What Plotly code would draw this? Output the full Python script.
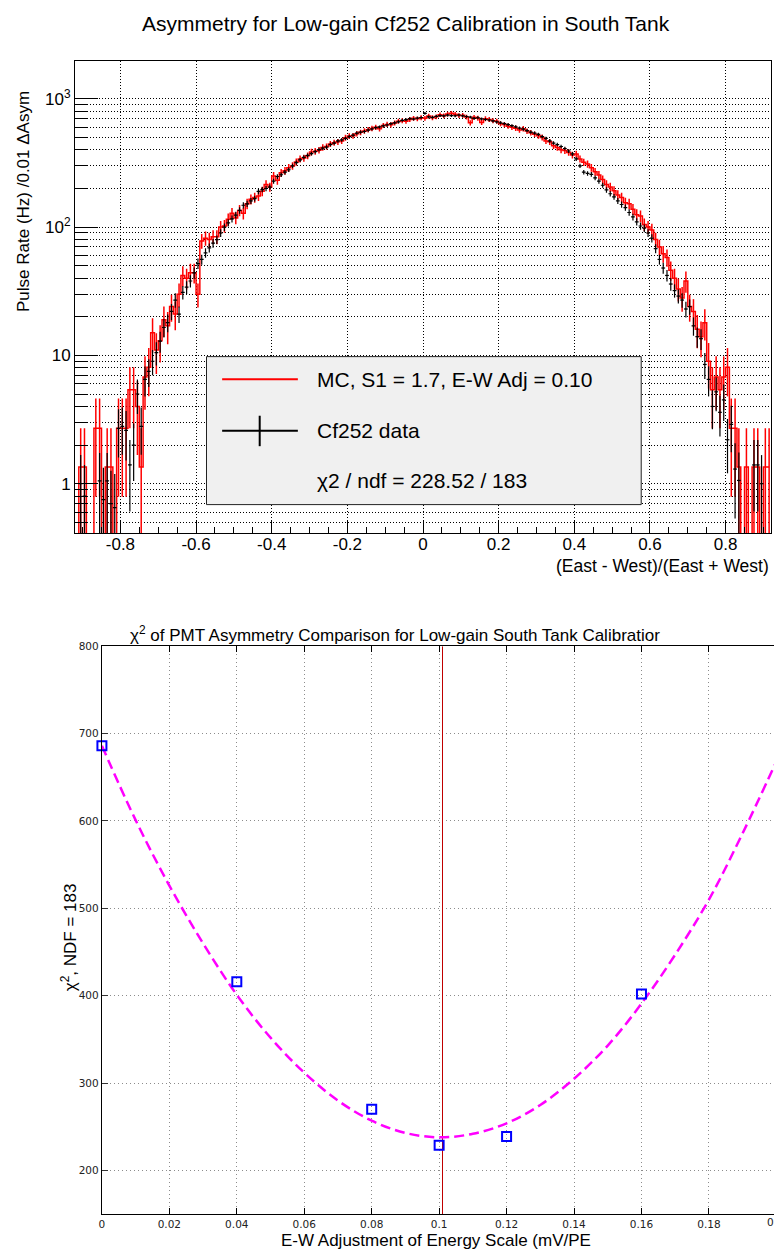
import numpy as np
import plotly.graph_objects as go

W, H = 774, 1253

# ---------------- top panel: asymmetry histograms ----------------
BIN_LOW = -0.92
BIN_WIDTH = 0.01

# Cf252 data, pulse rate per bin (Hz / 0.01 dAsym); 0 = empty bin
data_rate = [
    0, 1.0, 0.8, 0, 0, 0, 1.05, 0.75, 1.05, 0.7,
    0.65, 2.7, 2.8, 2.6, 1.4, 2.0, 5.0, 2.8, 6.5, 7.5,
    9.0, 10.5, 12.9, 16.5, 18, 22, 27, 21, 31, 34,
    38, 44, 52, 56, 63, 69, 75, 80, 90, 100,
    108, 116, 124, 135, 148, 152, 160, 167, 190, 196,
    200, 205, 228, 248, 256, 268, 280, 300, 318, 334,
    350, 362, 374, 388, 402, 412, 420, 440, 452, 470,
    478, 492, 508, 522, 540, 550, 556, 570, 582, 596,
    604, 615, 625, 640, 650, 662, 680, 688, 700, 694,
    708, 715, 770, 722, 718, 730, 740, 735, 745, 740,
    738, 748, 735, 728, 720, 705, 712, 698, 690, 684,
    672, 660, 650, 640, 630, 618, 605, 592, 580, 565,
    550, 540, 528, 508, 492, 470, 452, 440, 425, 410,
    392, 372, 340, 300, 268, 262, 258, 242, 228, 212,
    195, 182, 172, 160, 150, 142, 130, 120, 110, 102,
    98, 90, 82, 68, 56, 48, 42, 36, 32, 29,
    27, 23, 24, 17, 14, 13.5, 8.5, 6.5, 4.0, 5.2,
    3.6, 4.5, 2.2, 2.9, 1.3, 1.06, 0, 0, 0, 1.4,
    1.4, 1.0, 0, 0,
]

# MC (S1 = 1.7, E-W Adj = 0.10), pulse rate per bin; 0 = empty bin
mc_rate = [
    0, 1.35, 1.35, 0, 0, 2.7, 2.7, 0, 1.35, 1.35,
    0, 2.7, 2.7, 2.7, 5.4, 5.4, 4.0, 1.35, 6.8, 8.1,
    15, 11, 13, 19, 17, 24, 21, 30, 42, 40,
    44, 44, 30, 78, 82, 80, 84, 84, 100, 102,
    115, 128, 118, 135, 128, 152, 165, 170, 175, 190,
    215, 205, 250, 232, 265, 275, 290, 300, 322, 340,
    345, 360, 385, 390, 398, 418, 425, 445, 455, 462,
    470, 498, 512, 515, 535, 548, 562, 575, 588, 600,
    585, 620, 632, 628, 648, 668, 676, 670, 690, 705,
    698, 712, 705, 735, 712, 725, 752, 738, 760, 772,
    758, 740, 745, 720, 650, 718, 706, 655, 700, 690,
    675, 668, 640, 630, 612, 600, 590, 572, 585, 560,
    545, 530, 515, 500, 470, 462, 430, 418, 400, 395,
    382, 365, 372, 340, 320, 310, 290, 270, 255, 235,
    215, 205, 192, 178, 170, 155, 152, 138, 125, 122,
    105, 100, 95, 80, 70, 62, 58, 46, 40, 33,
    28, 38, 24, 22, 16, 14, 18, 9, 5.4, 6.8,
    5.4, 6.8, 8.1, 2.7, 2.7, 1.35, 0, 1.35, 0, 1.35,
    1.35, 0, 1.35, 1.35,
]

# per-event weights (Poisson errors of the weighted histograms)
DATA_EVENT_WEIGHT = 0.45
MC_EVENT_WEIGHT = 1.35

x_ticks_top = [-0.8, -0.6, -0.4, -0.2, 0, 0.2, 0.4, 0.6, 0.8]
x_ticktext_top = ["-0.8", "-0.6", "-0.4", "-0.2", "0", "0.2", "0.4", "0.6", "0.8"]
y_ticks_top = [1, 10, 100, 1000]
y_ticktext_top = ["1", "10", "10<sup>2</sup>", "10<sup>3</sup>"]

legend_mc = "MC, S1 = 1.7, E-W Adj = 0.10"
legend_data = "Cf252 data"
legend_chi2 = "\u03c72 / ndf = 228.52 / 183"

# ---------------- bottom panel: chi2 scan ----------------
scan_adj = [0.0, 0.04, 0.08, 0.10, 0.12, 0.16]
scan_chi2 = [686, 416, 270, 229, 239, 402]
fit_adj = [0.0, 0.01, 0.02, 0.03, 0.04, 0.05, 0.06, 0.07, 0.08, 0.09, 0.10,
           0.11, 0.12, 0.13, 0.14, 0.15, 0.16, 0.17, 0.18, 0.19, 0.20]
fit_chi2 = [686, 601, 526, 460, 401, 352, 312, 280, 257, 243, 238,
            242, 254, 275, 305, 343, 391, 447, 510, 586, 668]
best_adj = 0.101
x_ticks_bot = [0, 0.02, 0.04, 0.06, 0.08, 0.1, 0.12, 0.14, 0.16, 0.18]
x_ticktext_bot = ["0", "0.02", "0.04", "0.06", "0.08", "0.1", "0.12", "0.14", "0.16", "0.18"]


def px(x):
    return x / W


def py(y):
    return 1 - y / H


n = len(data_rate)
centers = BIN_LOW + BIN_WIDTH * (np.arange(n) + 0.5)
d = np.array(data_rate, dtype=float)
m = np.array(mc_rate, dtype=float)

d_err = np.sqrt(DATA_EVENT_WEIGHT * d)
m_err = np.sqrt(MC_EVENT_WEIGHT * m)
# lower error bars: keep them positive on the log axis (they run off the bottom)
d_err_lo = np.minimum(d_err, d * 0.999)
m_err_lo = np.minimum(m_err, m * 0.999)

m_plot = np.where(m > 0, m, 1e-3)   # empty bins drop out of the frame, like ROOT

FONT = "Liberation Sans, Arial, Helvetica, sans-serif"
TFONT = "DejaVu Sans, Verdana, sans-serif"
TICKCOL = "#222"

fig = go.Figure()

fig.add_trace(go.Scatter(
    x=centers, y=m_plot, mode="lines", line=dict(color="#ff0000", width=1.5, shape="hvh"),
    error_y=dict(type="data", array=m_err, arrayminus=m_err_lo, color="#ff0000",
                 thickness=1.5, width=0),
    xaxis="x", yaxis="y", hoverinfo="skip"))

mask = d > 0
fig.add_trace(go.Scatter(
    x=centers[mask], y=d[mask], mode="markers",
    marker=dict(size=1, color="black"),
    error_x=dict(type="constant", value=BIN_WIDTH / 2, color="black", thickness=1.2, width=0),
    error_y=dict(type="data", array=d_err[mask], arrayminus=d_err_lo[mask], color="black",
                 thickness=1.2, width=0),
    xaxis="x", yaxis="y", hoverinfo="skip"))

# bottom panel traces
fig.add_trace(go.Scatter(
    x=[best_adj, best_adj], y=[150, 800], mode="lines",
    line=dict(color="#c00000", width=1), xaxis="x2", yaxis="y2"))
fig.add_trace(go.Scatter(
    x=fit_adj, y=fit_chi2, mode="lines",
    line=dict(color="#ff00ff", width=2.5, dash="10px,5px", shape="spline"),
    xaxis="x2", yaxis="y2"))
fig.add_trace(go.Scatter(
    x=scan_adj, y=scan_chi2, mode="markers", cliponaxis=False,
    marker=dict(symbol="square-open", size=9, color="#0000ff", line=dict(width=2, color="#0000ff")),
    xaxis="x2", yaxis="y2"))

minor_log = [v * k for v in (0.1, 1, 10, 100) for k in range(2, 10)] + [2000]

fig.update_layout(
    width=W, height=H, margin=dict(l=0, r=0, t=0, b=0),
    paper_bgcolor="white", plot_bgcolor="white", showlegend=False,
    font=dict(family=FONT, color="black"),
    xaxis=dict(
        domain=[px(72.3), px(771)], range=[-0.92, 0.92], anchor="y",
        showline=True, linecolor="black", linewidth=1, mirror=True,
        ticks="inside", ticklen=13, tickwidth=1, tickcolor="black",
        tickmode="array", tickvals=x_ticks_top, ticktext=x_ticktext_top,
        tickfont=dict(size=17, family=FONT, color="black"),
        ticklabelstandoff=-5,
        showgrid=True, gridcolor="black", gridwidth=1, griddash="1px,2px",
        minor=dict(ticks="inside", ticklen=6, tickcolor="black", dtick=0.05, tick0=0,
                   showgrid=False),
        zeroline=False,
    ),
    yaxis=dict(
        type="log", domain=[py(530), py(55.5)], range=[-0.388, 3.293], anchor="x",
        showline=True, linecolor="black", linewidth=1, mirror=True,
        ticks="inside", ticklen=23, tickwidth=1, tickcolor="black",
        tickmode="array", tickvals=y_ticks_top, ticktext=y_ticktext_top,
        tickfont=dict(size=17, family=FONT, color="black"),
        showgrid=True, gridcolor="black", gridwidth=1, griddash="1px,2px",
        minor=dict(ticks="inside", ticklen=12, tickcolor="black", tickmode="array",
                   tickvals=minor_log, showgrid=True, gridcolor="black",
                   griddash="1px,2px"),
        zeroline=False,
    ),
    xaxis2=dict(
        domain=[px(99.3), 1.0], range=[0, 0.1993], anchor="y2",
        showline=True, linecolor="black", linewidth=1.2, mirror="ticks",
        ticks="inside", ticklen=6, tickcolor="black",
        tickmode="array", tickvals=x_ticks_bot, ticktext=x_ticktext_bot,
        tickfont=dict(size=10.5, family=TFONT, color=TICKCOL),
        showgrid=True, gridcolor="#8c8c8c", gridwidth=1, griddash="1px,3px",
        zeroline=False,
    ),
    yaxis2=dict(
        domain=[py(1214), py(643.3)], range=[150, 800], anchor="x2",
        showline=True, linecolor="black", linewidth=1.2,
        ticks="inside", ticklen=6, tickcolor="#333",
        dtick=100, tick0=0,
        tickfont=dict(size=10.5, family=TFONT, color=TICKCOL),
        showgrid=True, gridcolor="#8c8c8c", gridwidth=1, griddash="1px,3px",
        zeroline=False,
    ),
)

shapes = [
    dict(type="rect", xref="paper", yref="paper", x0=px(204.3), x1=px(640.7),
         y0=py(501), y1=py(352.3), fillcolor="#f0f0f0", line=dict(color="#222", width=1),
         layer="above"),
    dict(type="line", xref="paper", yref="paper", x0=px(220), x1=px(296), y0=py(375), y1=py(375),
         line=dict(color="#ff0000", width=2), layer="above"),
    dict(type="line", xref="paper", yref="paper", x0=px(220), x1=px(296), y0=py(426.7), y1=py(426.7),
         line=dict(color="black", width=2), layer="above"),
    dict(type="line", xref="paper", yref="paper", x0=px(257.7), x1=px(257.7), y0=py(411.7), y1=py(442.3),
         line=dict(color="black", width=2), layer="above"),
]
fig.update_layout(shapes=shapes)


def ann(text, x, y, size, xanchor="center", angle=0, family=FONT, color="black"):
    return dict(text=text, xref="paper", yref="paper", x=px(x), y=py(y), xanchor=xanchor,
                yanchor="middle", showarrow=False, textangle=angle,
                font=dict(size=size, family=family, color=color))


annotations = [
    ann("Asymmetry for Low-gain Cf252 Calibration in South Tank", 405, 18, 21),
    ann("Pulse Rate (Hz) /0.01 \u0394Asym", 20, 196, 17, angle=-90),
    ann("(East - West)/(East + West)", 771, 563, 17.5, xanchor="right"),
    ann(legend_mc, 313, 375, 21, xanchor="left"),
    ann(legend_data, 313, 427, 21, xanchor="left"),
    ann(legend_chi2, 313, 477, 21, xanchor="left"),
    ann("\u03c7<sup>2</sup> of PMT Asymmetry Comparison for Low-gain South Tank Calibratior",
        125, 631, 17, xanchor="left"),
    ann("E-W Adjustment of Energy Scale (mV/PE", 435, 1240, 17),
    ann("\u03c7<sup>2</sup>, NDF = 183", 66, 936, 17, angle=-90),
    ann("0.2", 776, 1222, 10.5, family=TFONT, color=TICKCOL),
]
fig.update_layout(annotations=annotations)

fig.write_html("out.html")
